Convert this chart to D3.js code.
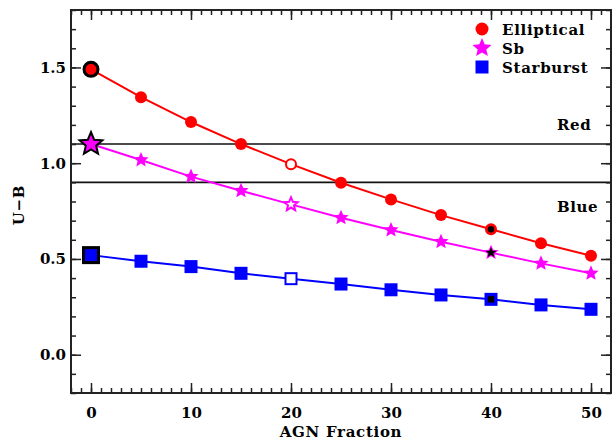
<!DOCTYPE html>
<html>
<head>
<meta charset="utf-8">
<script src="https://cdn.jsdelivr.net/npm/d3@7"></script>
<style>
  body { margin: 0; background: #fff; }
  svg { display: block; }
  text { font-family: "DejaVu Serif", serif; font-weight: bold; fill: #000; }
</style>
</head>
<body>
<svg id="chart" width="612" height="440"></svg>
<script>
// AGN fraction (%) and U-B colour of each template
var agnFraction = [0, 5, 10, 15, 20, 25, 30, 35, 40, 45, 50];
var elliptical  = [1.49, 1.345, 1.215, 1.10, 0.995, 0.898, 0.811, 0.729, 0.655, 0.582, 0.517];
var sb          = [1.10, 1.017, 0.930, 0.856, 0.785, 0.715, 0.651, 0.590, 0.533, 0.477, 0.425];
var starburst   = [0.52, 0.488, 0.460, 0.425, 0.397, 0.369, 0.339, 0.312, 0.289, 0.260, 0.237];

var redCut = 1.1, blueCut = 0.9;
var xTicks = [0, 10, 20, 30, 40, 50];
var yTicks = [0.0, 0.5, 1.0, 1.5];

var svg = d3.select('#chart');
// note: "top" is taken by window.top, so the plot box uses its own names
var pLeft = 71, pRight = 611, pTop = 10, pBottom = 393;

var x = d3.scaleLinear().domain([-2, 52]).range([pLeft, pRight]);
var y = d3.scaleLinear().domain([-0.2, 1.8]).range([pBottom, pTop]);

var series = [
  {name: 'Elliptical', vals: elliptical, color: '#ff0000', shape: 'circle'},
  {name: 'Sb',         vals: sb,         color: '#ff00ff', shape: 'star'},
  {name: 'Starburst',  vals: starburst,  color: '#0000ff', shape: 'square'}
];

// red / blue dividing lines
[redCut, blueCut].forEach(function(v){
  svg.append('line')
    .attr('x1', pLeft).attr('x2', pRight)
    .attr('y1', y(v)).attr('y2', y(v))
    .attr('stroke', '#111').attr('stroke-width', 1.6);
});
svg.append('text').attr('x', 557).attr('y', y(1.2) + 5)
  .style('font-size', '15px').style('letter-spacing', '0.6px').text('Red');
svg.append('text').attr('x', 557).attr('y', y(0.8) + 10)
  .style('font-size', '15px').style('letter-spacing', '0.6px').text('Blue');

function starPath(R) {
  var r = R * 0.45, pts = [];
  for (var i = 0; i < 10; i++) {
    var a = -Math.PI / 2 + i * Math.PI / 5, rr = i % 2 ? r : R;
    pts.push([rr * Math.cos(a), rr * Math.sin(a)]);
  }
  return 'M' + pts.map(function(p){ return p[0].toFixed(2) + ',' + p[1].toFixed(2); }).join('L') + 'Z';
}

function marker(g, shape, size, fill, stroke, sw) {
  var m;
  if (shape == 'circle') {
    m = g.append('circle').attr('r', size);
  } else if (shape == 'square') {
    m = g.append('rect').attr('x', -size).attr('y', -size).attr('width', 2 * size).attr('height', 2 * size);
  } else {
    m = g.append('path').attr('d', starPath(size));
  }
  m.attr('fill', fill).attr('stroke', stroke || 'none').attr('stroke-width', sw || 0)
   .attr('stroke-linejoin', 'miter');
  return m;
}

var line = d3.line()
  .x(function(d, i){ return x(agnFraction[i]); })
  .y(function(d){ return y(d); })
  .curve(d3.curveLinear);

var base = {circle: 6, star: 8, square: 6.5};

series.forEach(function(s){
  svg.append('path')
    .attr('d', line(s.vals))
    .attr('fill', 'none')
    .attr('stroke', s.color)
    .attr('stroke-width', 2);

  s.vals.forEach(function(v, i){
    var f = agnFraction[i];
    var g = svg.append('g').attr('transform', 'translate(' + x(f) + ',' + y(v) + ')');
    if (f == 0) {
      var big = {circle: 7, star: 12, square: 7.5}[s.shape];
      marker(g, s.shape, big, s.color, '#000', s.shape == 'star' ? 2 : 3);
    } else if (f == 20) {
      var sz = base[s.shape] - 1;
      marker(g, s.shape, sz, '#fff', s.color, 2);
    } else if (f == 40) {
      marker(g, s.shape, base[s.shape], s.color);
      marker(g, s.shape, s.shape == 'star' ? 5.5 : 3.2, '#000');
    } else {
      marker(g, s.shape, base[s.shape], s.color);
    }
  });
});

// legend
series.forEach(function(s, i){
  var ly = 29 + i * 19;
  var g = svg.append('g').attr('transform', 'translate(482,' + ly + ')');
  marker(g, s.shape, s.shape == 'star' ? 10 : 6.5, s.color);
  svg.append('text').attr('x', 502).attr('y', ly + 6)
    .style('font-size', '15px').style('letter-spacing', '0.7px').text(s.name);
});

// axes with inward ticks on all four sides
function styleAxis(g) {
  g.select('.domain').remove();
  g.selectAll('line').attr('stroke', '#222').attr('stroke-width', 1.5);
  g.selectAll('text').style('font-size', '15px').attr('fill', '#000');
}
var xMinor = d3.range(-2, 53, 1);
var yMinor = d3.range(-0.2, 1.81, 0.1).map(function(v){ return Math.round(v * 10) / 10; });

svg.append('g').attr('transform', 'translate(0,' + pBottom + ')')
  .call(d3.axisBottom(x).tickValues(xMinor).tickSize(-5).tickFormat('')).call(styleAxis);
svg.append('g').attr('transform', 'translate(0,' + pBottom + ')')
  .call(d3.axisBottom(x).tickValues(xTicks).tickSize(-10).tickPadding(14).tickFormat(d3.format('d')))
  .call(styleAxis);
svg.append('g').attr('transform', 'translate(0,' + pTop + ')')
  .call(d3.axisTop(x).tickValues(xMinor).tickSize(-5).tickFormat('')).call(styleAxis);
svg.append('g').attr('transform', 'translate(0,' + pTop + ')')
  .call(d3.axisTop(x).tickValues(xTicks).tickSize(-10).tickFormat('')).call(styleAxis);

svg.append('g').attr('transform', 'translate(' + pLeft + ',0)')
  .call(d3.axisLeft(y).tickValues(yMinor).tickSize(-5).tickFormat('')).call(styleAxis);
svg.append('g').attr('transform', 'translate(' + pLeft + ',0)')
  .call(d3.axisLeft(y).tickValues(yTicks).tickSize(-10).tickPadding(5).tickFormat(d3.format('.1f')))
  .call(styleAxis);
svg.append('g').attr('transform', 'translate(' + pRight + ',0)')
  .call(d3.axisRight(y).tickValues(yMinor).tickSize(-5).tickFormat('')).call(styleAxis);
svg.append('g').attr('transform', 'translate(' + pRight + ',0)')
  .call(d3.axisRight(y).tickValues(yTicks).tickSize(-10).tickFormat('')).call(styleAxis);

// frame
svg.append('rect')
  .attr('x', pLeft).attr('y', pTop)
  .attr('width', pRight - pLeft).attr('height', pBottom - pTop)
  .attr('fill', 'none').attr('stroke', '#222').attr('stroke-width', 2);

svg.append('text')
  .attr('x', (pLeft + pRight) / 2).attr('y', 437)
  .attr('text-anchor', 'middle')
  .style('font-size', '15px').style('letter-spacing', '0.7px')
  .text('AGN Fraction');

svg.append('text')
  .attr('transform', 'translate(24,205) rotate(-90)')
  .attr('text-anchor', 'middle')
  .style('font-size', '15px').style('letter-spacing', '0.7px')
  .text('U\u2212B');
</script>
</body>
</html>
